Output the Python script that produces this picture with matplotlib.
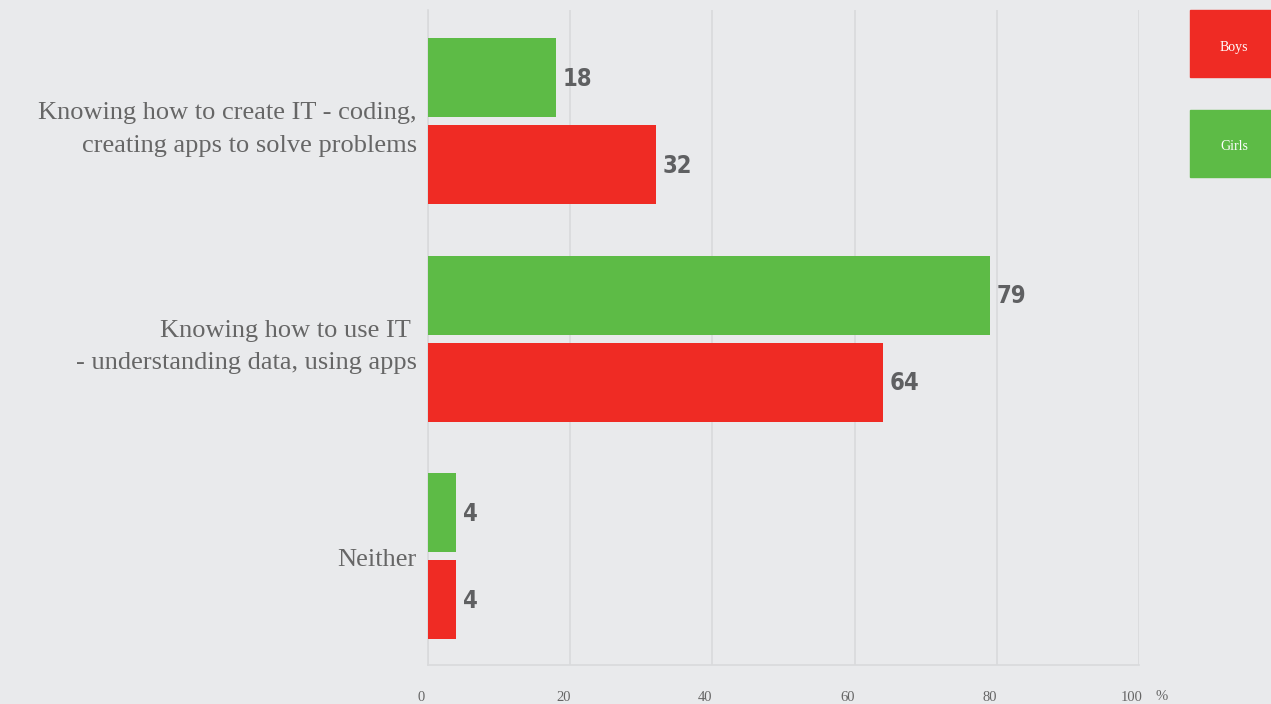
import matplotlib.pyplot as plt
from matplotlib.patches import Rectangle
from matplotlib.transforms import ScaledTranslation

categories = ['Knowing how to create IT - coding,\ncreating apps to solve problems',
              'Knowing how to use IT \n- understanding data, using apps',
              'Neither']
girls = [18, 79, 4]
boys = [32, 64, 4]
xticks = [0, 20, 40, 60, 80, 100]

bg = '#e9eaec'
red = '#ef2b24'
green = '#5dbb46'
grey_txt = '#666666'

fig = plt.figure(figsize=(12.71, 7.04), dpi=100, facecolor=bg)
ax = fig.add_axes([428/1271, 1 - 665/704, (1139 - 428)/1271, 655/704])
ax.set_facecolor(bg)

y = list(range(len(categories)))
h = 0.363
off = 0.2
bars_g = ax.barh([i - off for i in y], girls, height=h, color=green, zorder=3)
bars_b = ax.barh([i + off for i in y], boys, height=h, color=red, zorder=3)

# value labels in a narrow bold face
for bars, vals in [(bars_g, girls), (bars_b, boys)]:
    for b, v in zip(bars, vals):
        ax.annotate(str(v), (v, b.get_y() + b.get_height()/2), xytext=(5, -1),
                    textcoords='offset points', ha='left', va='center',
                    fontsize=17, fontweight='bold', fontstretch='condensed',
                    color='#5f6062', family='DejaVu Sans', zorder=4)

ax.set_xlim(0, 100)
ax.set_ylim(2.5, -0.51)
ax.set_xticks(xticks)
ax.set_xticklabels([str(t) for t in xticks], family='Liberation Serif',
                   fontsize=10.5, color=grey_txt)
ax.tick_params(axis='x', length=0, pad=19)
xshift = ScaledTranslation(-7/100, 0, fig.dpi_scale_trans)
for lab in ax.get_xticklabels():
    lab.set_transform(lab.get_transform() + xshift)

ax.set_yticks(y)
ax.set_yticklabels(categories, family='Liberation Serif', fontsize=19,
                   color=grey_txt, linespacing=1.6)
ax.tick_params(axis='y', length=0, pad=8)
yshift = ScaledTranslation(0, -1/100, fig.dpi_scale_trans)
for lab in ax.get_yticklabels():
    lab.set_transform(lab.get_transform() + yshift)

ax.grid(axis='x', color='#d9dadc', linewidth=1.2, zorder=0)
for s in ['top', 'right']:
    ax.spines[s].set_visible(False)
for s in ['left', 'bottom']:
    ax.spines[s].set_color('#d9dadc')
    ax.spines[s].set_linewidth(1.2)

fig.text(1162/1271, 1 - 697/704, '%', ha='center', va='center',
         family='Liberation Serif', fontsize=10.5, color=grey_txt)

# legend boxes on the right
for label, col, top in [('Boys', red, 10), ('Girls', green, 110)]:
    fig.patches.append(Rectangle((1190/1271, 1 - (top + 67)/704), 81/1271, 67/704,
                                 transform=fig.transFigure, color=col))
    fig.text(1234/1271, 1 - (top + 37)/704, label, ha='center', va='center',
             family='Liberation Serif', fontsize=10, color='white')

fig.savefig('out.png', dpi=100, facecolor=bg)
